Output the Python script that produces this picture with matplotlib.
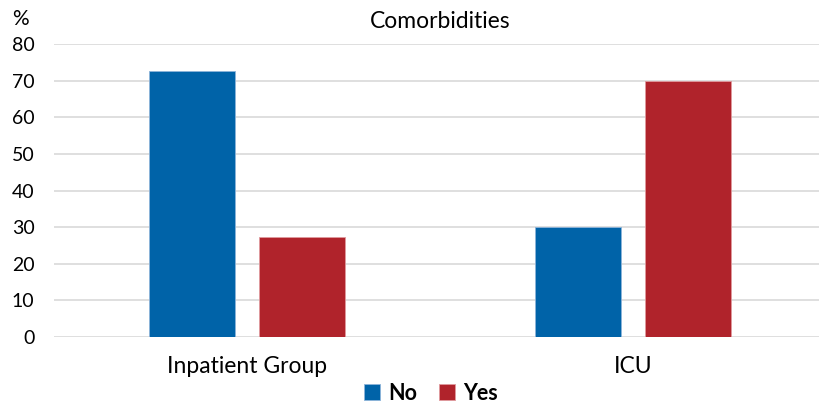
import matplotlib
matplotlib.use("Agg")
import matplotlib.pyplot as plt
import numpy as np

plt.rcParams['font.family'] = ['Lato', 'DejaVu Sans']

categories = ["Inpatient Group", "ICU"]
series_names = ["No", "Yes"]
no_values = [72.7, 30.0]
yes_values = [27.3, 70.0]
yticks = [0, 10, 20, 30, 40, 50, 60, 70, 80]

blue = "#0063A8"
red = "#B0232B"

fig = plt.figure(figsize=(8.19, 4.08), dpi=100)
ax = fig.add_axes([54/819, 71/408, 1 - 54/819, (337 - 44.3)/408])

x = np.arange(len(categories))
w = 0.223
off = 0.1425
ax.bar(x - off, no_values, w, color=blue, edgecolor="#8DB4DA", linewidth=0.6, label=series_names[0], zorder=3)
ax.bar(x + off, yes_values, w, color=red, edgecolor="#E09A9E", linewidth=0.6, label=series_names[1], zorder=3)

ax.set_xlim(-0.5, 1.482)
ax.set_ylim(0, 80)
ax.set_yticks(yticks)
ax.set_yticklabels([str(t) for t in yticks], fontsize=14)
ax.set_xticks(x)
ax.set_xticklabels(categories, fontsize=16.5)
ax.tick_params(axis='both', length=0)
ax.tick_params(axis='y', pad=14)
ax.tick_params(axis='x', pad=14)
ax.grid(axis='y', color="#D9D9D9", linewidth=1.2, zorder=0)
for s in ax.spines.values():
    s.set_visible(False)

fig.text(20/819, 1 - 19/408, "%", fontsize=15, ha='center', va='center')
fig.text(440/819, 1 - 21/408, "Comorbidities", fontsize=16.5, ha='center', va='center')

leg = fig.legend(loc='center', bbox_to_anchor=(431/819, 1 - 393/408), ncol=2, frameon=False,
                 prop={'weight': 'bold', 'size': 15.5}, handlelength=0.75, handleheight=0.75,
                 handletextpad=0.4, columnspacing=1.0)

fig.savefig("out.png", dpi=100)
